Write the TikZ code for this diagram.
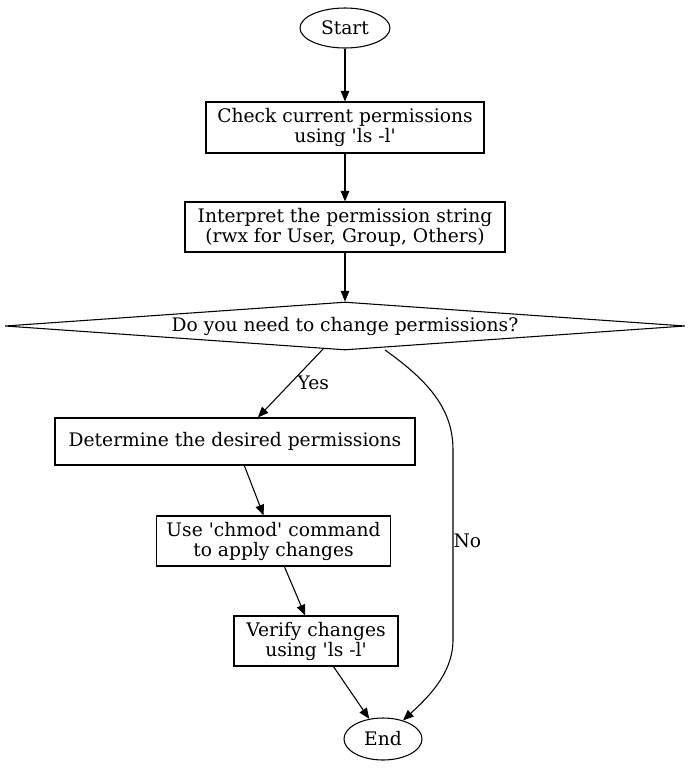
\documentclass[tikz,border=0pt]{standalone}
\usepackage{fontspec}
\setmainfont{DejaVu Serif}
\usetikzlibrary{shapes.geometric,arrows.meta}
\newcommand{\sq}{\textquotesingle}
\begin{document}
\begin{tikzpicture}[x=0.75pt,y=-0.75pt,
  every node/.style={font=\fontsize{14}{15}\selectfont, align=center, inner sep=0pt},
  box/.style={draw, line width=0.8pt, minimum height=37.5pt},
  oval/.style={draw, ellipse, line width=0.8pt},
  decision/.style={draw, diamond, line width=0.8pt, aspect=14, minimum width=510pt, minimum height=36pt},
  arr/.style={draw, line width=0.8pt, -{Triangle[length=8pt,width=6.5pt]}},
  lbl/.style={font=\fontsize{14}{15}\selectfont}]
\useasboundingbox (0,0) rectangle (691,768);
\node[oval, minimum width=67.5pt, minimum height=30pt] (start) at (345,28) {Start};
\node[box, minimum width=208.5pt, minimum height=38.25pt] (b1) at (345,127.5) {Check current permissions\\using \sq ls -l\sq};
\node[box, minimum width=240pt] (b2) at (345,227) {Interpret the permission string\\(rwx for User, Group, Others)};
\node[decision] (d) at (345,326) {Do you need to change permissions?};
\node[box, minimum width=270pt, minimum height=35.25pt] (b3) at (235,441.5) {Determine the desired permissions};
\node[box, minimum width=176pt] (b4) at (273.5,541) {Use \sq chmod\sq{} command\\to apply changes};
\node[box, minimum width=123pt] (b5) at (316,641) {Verify changes\\using \sq ls -l\sq};
\node[oval, minimum width=58.5pt, minimum height=31.5pt] (end) at (383,739) {End};
\coordinate (nostart) at (385,350);
\draw[arr] (start) -- (b1);
\draw[arr] (b1) -- (b2);
\draw[arr] (b2) -- (d);
\draw[arr] (d) -- node[lbl, right, pos=0.5, xshift=5pt] {Yes} (b3);
\draw[arr] (b3) -- (b4);
\draw[arr] (b4) -- (b5);
\draw[arr] (b5) -- (end);
\draw[arr] (nostart) .. controls (430,382) and (453,410) .. (453,450)
  -- node[lbl, right, pos=0.48] {No} (453,640)
  .. controls (453,675) and (425,700) .. (end);
\end{tikzpicture}
\end{document}
